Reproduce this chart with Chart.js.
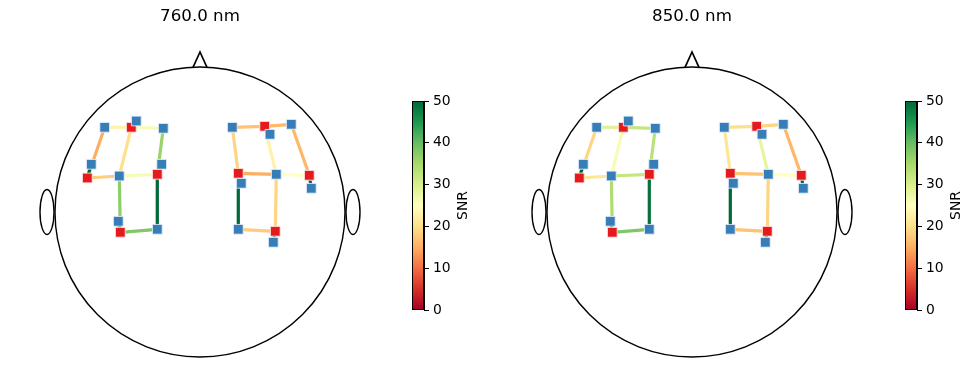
<!DOCTYPE html>
<html><head><meta charset="utf-8">
<script src="https://cdn.jsdelivr.net/npm/chart.js@4.4.0/dist/chart.umd.min.js"></script>
<style>
html,body{margin:0;padding:0;background:#fff;overflow:hidden}
#wrap{position:relative;width:972px;height:390px;background:#fff}
canvas{position:absolute}
</style></head><body>
<div id="wrap">
<canvas id="h1" width="400" height="390" style="left:0px;top:0px;width:400px;height:390px"></canvas>
<canvas id="c1" width="80" height="250" style="left:400px;top:80px;width:80px;height:250px"></canvas>
<canvas id="h2" width="400" height="390" style="left:492px;top:0px;width:400px;height:390px"></canvas>
<canvas id="c2" width="80" height="250" style="left:893px;top:80px;width:80px;height:250px"></canvas>
</div>
<script>
// ---------------- data ----------------
const titles = ['760.0 nm', '850.0 nm'];
// source optode positions (head units, head radius = 145)
const srcX = [-68.7, -112.7, -42.7, -79.7, 64.7, 38.3, 109.3, 75.3];
const srcY = [84.7, 34.0, 37.7, -20.3, 85.7, 38.7, 36.7, -19.3];
// detector optode positions
const detX = [-95.3, -63.7, -36.7, -108.7, -80.7, -38.3, -81.7, -42.7, 32.3, 91.3, 70.0, 41.3, 76.3, 111.3, 38.3, 73.3];
const detY = [84.7, 91.0, 83.7, 47.7, 36.0, 47.7, -9.3, -17.3, 84.7, 87.7, 77.7, 28.7, 37.7, 23.7, -17.3, -30.3];
// channels: source index, detector index, SNR per wavelength
const chSrc = [0, 0, 0, 0, 1, 1, 1, 2, 2, 2, 3, 3, 2, 3, 4, 4, 4, 4, 5, 5, 5, 6, 6, 6, 5, 7, 7, 7];
const chDet = [0, 2, 1, 4, 0, 3, 4, 4, 2, 5, 4, 6, 7, 7, 8, 9, 10, 12, 8, 12, 11, 12, 9, 13, 14, 12, 14, 15];
const snr760 = [23, 26, 50, 20, 15, 50, 18, 26, 36, 50, 37, 50, 50, 38, 17, 16, 50, 23, 19, 15, 50, 25, 16, 50, 50, 19, 18, 50];
const snr850 = [29, 32, 50, 26, 19, 50, 21, 32, 33, 50, 34, 50, 49, 38, 20, 19, 50, 28, 21, 17, 50, 25, 16, 50, 50, 19, 17, 50];
const cbTicks = [0, 10, 20, 30, 40, 50];

// ---------------- styling ----------------
const HEAD = {r: 145, earX: 153, earRx: 7, earRy: 22.5, noseHalf: 7, noseBase: 144.6, noseTip: 160};
const RDYLGN = ['#a50026','#d73027','#f46d43','#fdae61','#fee08b','#ffffbf','#d9ef8b','#a6d96a','#66bd63','#1a9850','#006837'];
const FONT = 'DejaVu Sans';

function hex(c){return [parseInt(c.slice(1,3),16),parseInt(c.slice(3,5),16),parseInt(c.slice(5,7),16)];}
function cmap(v){
  let t = Math.max(0, Math.min(1, v / 50));
  const p = t * 10; let i = Math.floor(p); if (i >= 10) i = 9;
  const f = p - i; const a = hex(RDYLGN[i]), b = hex(RDYLGN[i+1]);
  const c = a.map((x,k)=>Math.round(x + (b[k]-x)*f));
  return `rgb(${c[0]},${c[1]},${c[2]})`;
}

const headPlugin = {
  id: 'head',
  beforeDatasetsDraw(chart){
    const {ctx} = chart; const xs = chart.scales.x, ys = chart.scales.y;
    const X = v => xs.getPixelForValue(v), Y = v => ys.getPixelForValue(v);
    ctx.save();
    ctx.strokeStyle = '#000'; ctx.lineWidth = 1.4;
    ctx.beginPath(); ctx.arc(X(0), Y(0), X(HEAD.r) - X(0), 0, 2*Math.PI); ctx.stroke();
    ctx.lineWidth = 1.7;
    ctx.beginPath();
    ctx.moveTo(X(-HEAD.noseHalf), Y(HEAD.noseBase));
    ctx.lineTo(X(0), Y(HEAD.noseTip));
    ctx.lineTo(X(HEAD.noseHalf), Y(HEAD.noseBase));
    ctx.stroke();
    ctx.lineWidth = 1.4;
    [-1, 1].forEach(s => {
      ctx.beginPath();
      ctx.ellipse(X(s*HEAD.earX), Y(0), X(HEAD.earRx) - X(0), Y(0) - Y(HEAD.earRy), 0, 0, 2*Math.PI);
      ctx.stroke();
    });
    ctx.restore();
  }
};

function makeHead(id, title, snr){
  const datasets = [];
  datasets.push({
    data: detX.map((x,i)=>({x, y: detY[i]})),
    pointStyle: 'rect', pointRadius: 6.9, backgroundColor: '#377eb8',
    borderColor: 'rgba(230,240,255,0.85)', borderWidth: 1, order: 0
  });
  datasets.push({
    data: srcX.map((x,i)=>({x, y: srcY[i]})),
    pointStyle: 'rect', pointRadius: 6.9, backgroundColor: '#e41a1c',
    borderColor: 'rgba(255,230,230,0.85)', borderWidth: 1, order: 1
  });
  chSrc.forEach((s,i)=>{
    const d = chDet[i];
    datasets.push({
      data: [{x: srcX[s], y: srcY[s]}, {x: detX[d], y: detY[d]}],
      showLine: true, borderColor: cmap(snr[i]), borderWidth: 3.2,
      pointRadius: 0, order: 2 + (50 - snr[i]) / 100
    });
  });
  return new Chart(document.getElementById(id), {
    type: 'scatter',
    data: {datasets},
    options: {
      responsive: false, animation: false, devicePixelRatio: 1, events: [],
      layout: {padding: 0, autoPadding: false},
      plugins: {
        legend: {display: false}, tooltip: {enabled: false},
        title: {display: true, text: title, color: '#000',
          font: {family: FONT, size: 16.67, weight: 'normal', lineHeight: 1.2},
          padding: {top: 7, bottom: 13}}
      },
      scales: {
        x: {type: 'linear', display: false, min: -200, max: 200},
        y: {type: 'linear', display: false, min: -178, max: 172}
      }
    },
    plugins: [headPlugin]
  });
}

const cbPlugin = {
  id: 'cbar',
  beforeDatasetsDraw(chart){
    const {ctx, chartArea: a} = chart;
    const g = ctx.createLinearGradient(0, a.bottom, 0, a.top);
    RDYLGN.forEach((c,i)=>g.addColorStop(i/10, c));
    ctx.save(); ctx.fillStyle = g;
    ctx.fillRect(a.left, a.top, a.right - a.left, a.bottom - a.top);
    ctx.restore();
  },
  afterDraw(chart){
    const {ctx, chartArea: a} = chart;
    ctx.save();
    ctx.strokeStyle = '#000'; ctx.lineWidth = 1;
    ctx.strokeRect(Math.round(a.left)+0.5, Math.round(a.top)+0.5, Math.round(a.right-a.left)-1, Math.round(a.bottom-a.top)-1);
    ctx.translate(a.right + 39, (a.top + a.bottom)/2);
    ctx.rotate(-Math.PI/2);
    ctx.fillStyle = '#000'; ctx.font = `13.9px "${FONT}"`;
    ctx.textAlign = 'center'; ctx.textBaseline = 'middle';
    ctx.fillText('SNR', 0, 0);
    ctx.restore();
  }
};

function makeBar(id){
  return new Chart(document.getElementById(id), {
    type: 'scatter',
    data: {datasets: [{data: []}]},
    options: {
      responsive: false, animation: false, devicePixelRatio: 1, events: [],
      layout: {padding: {left: 12, top: 21, bottom: 20, right: 0}, autoPadding: false},
      plugins: {legend: {display: false}, tooltip: {enabled: false}, title: {display: false}},
      scales: {
        x: {type: 'linear', display: false},
        y: {
          type: 'linear', position: 'right', min: 0, max: 50,
          afterFit(scale){ scale.width = 56; },
          afterBuildTicks(scale){ scale.ticks = cbTicks.map(v=>({value: v})); },
          ticks: {color: '#000', padding: 4, font: {family: FONT, size: 13.9}},
          grid: {display: true, drawOnChartArea: false, drawTicks: true, tickLength: 5, color: '#000', lineWidth: 1},
          border: {display: true, color: '#000', width: 1}
        }
      }
    },
    plugins: [cbPlugin]
  });
}

makeHead('h1', titles[0], snr760);
makeHead('h2', titles[1], snr850);
makeBar('c1');
makeBar('c2');
</script>
</body></html>
